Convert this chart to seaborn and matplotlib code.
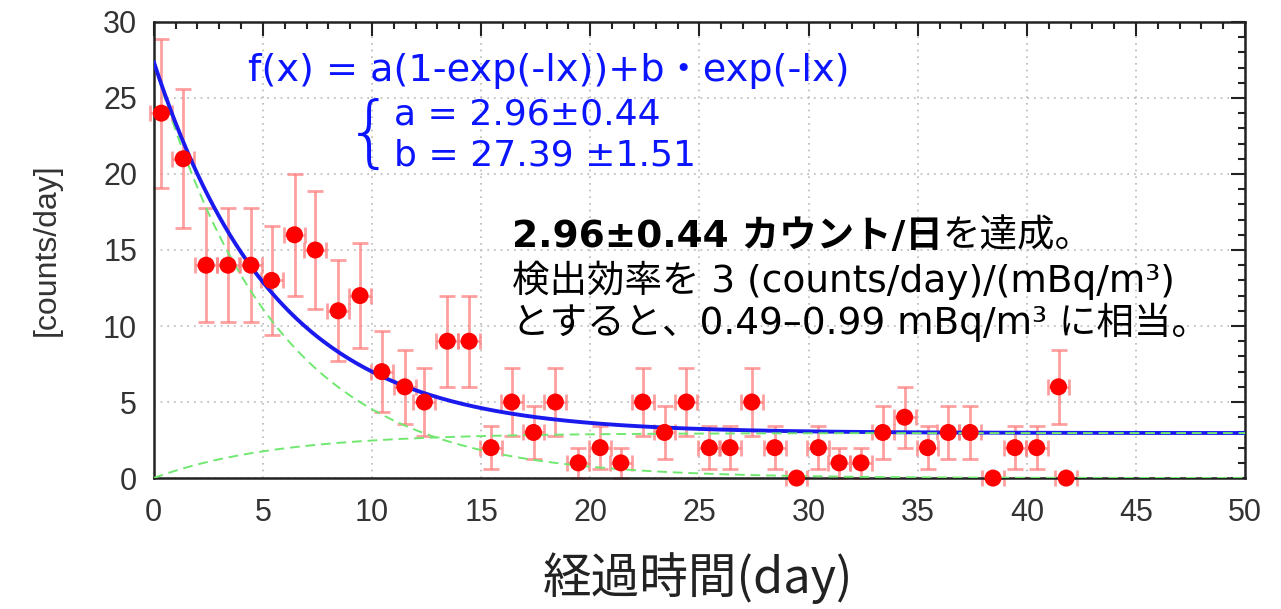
import numpy as np
import pandas as pd
import matplotlib
matplotlib.use("Agg")
import matplotlib.pyplot as plt
import seaborn as sns
from matplotlib.ticker import MultipleLocator

# ---- data ----
days = [0.35, 1.35, 2.4, 3.4, 4.45, 5.4, 6.45, 7.4, 8.45, 9.45,
        10.45, 11.5, 12.4, 13.45, 14.45, 15.45, 16.4, 17.4, 18.4, 19.45,
        20.45, 21.4, 22.4, 23.4, 24.4, 25.45, 26.4, 27.4, 28.45, 29.45,
        30.45, 31.4, 32.4, 33.4, 34.4, 35.45, 36.4, 37.4, 38.45, 39.45,
        40.45, 41.45, 41.8]
counts = [24, 21, 14, 14, 14, 13, 16, 15, 11, 12,
          7, 6, 5, 9, 9, 2, 5, 3, 5, 1,
          2, 1, 5, 3, 5, 2, 2, 5, 2, 0,
          2, 1, 1, 3, 4, 2, 3, 3, 0, 2,
          2, 6, 0]
x_err = 0.5
fit_a = 2.96
fit_b = 27.39
fit_l = 0.18
x_ticks = [0, 5, 10, 15, 20, 25, 30, 35, 40, 45, 50]
y_ticks = [0, 5, 10, 15, 20, 25, 30]

df = pd.DataFrame({"day": days, "counts": counts})
df["err"] = np.sqrt(df["counts"])

xs = np.linspace(0, 50, 400)
curves = pd.DataFrame({
    "x": xs,
    "total": fit_a * (1 - np.exp(-fit_l * xs)) + fit_b * np.exp(-fit_l * xs),
    "const": fit_a * (1 - np.exp(-fit_l * xs)),
    "decay": fit_b * np.exp(-fit_l * xs),
})

sns.set_theme(style="white")
plt.rcParams['font.family'] = ['Liberation Sans', 'DejaVu Sans']

fig = plt.figure(figsize=(12.81, 6.09), dpi=100)
ax = fig.add_axes([0.120, 0.215, 0.852, 0.749])

# grid
ax.grid(True, which="major", color="#b8b8b8", linestyle=(0, (1, 3)), linewidth=1.2)
ax.set_axisbelow(True)

# error bars
ax.errorbar(df["day"], df["counts"], yerr=df["err"], xerr=x_err, fmt="none",
            ecolor="#ff8080", elinewidth=2, capsize=6, capthick=2, alpha=0.75,
            clip_on=False, zorder=2)

# component curves
sns.lineplot(data=curves, x="x", y="decay", ax=ax, color="#70e870",
             linewidth=1.4, linestyle=(0, (5, 3)), zorder=3)
sns.lineplot(data=curves, x="x", y="total", ax=ax, color="#1a1aee",
             linewidth=2.8, zorder=4)
sns.lineplot(data=curves, x="x", y="const", ax=ax, color="#70e870",
             linewidth=1.4, linestyle=(0, (5, 3)), zorder=5)

# points
sns.scatterplot(data=df, x="day", y="counts", ax=ax, color="#ff0000", s=150,
                edgecolor="none", zorder=6, clip_on=False)

ax.set_xlim(0, 50)
ax.set_ylim(0, 30)
ax.set_xticks(x_ticks)
ax.set_yticks(y_ticks)
ax.xaxis.set_minor_locator(MultipleLocator(1))
ax.yaxis.set_minor_locator(MultipleLocator(1))
ax.tick_params(which="both", direction="in", top=True, right=True,
               color="#222222", width=1.5)
ax.tick_params(which="major", length=10, labelsize=22, labelcolor="#333333")
ax.tick_params(axis="x", which="major", pad=14)
ax.tick_params(axis="y", which="major", pad=12)
ax.tick_params(which="minor", length=5)
for sp in ax.spines.values():
    sp.set_color("#222222")
    sp.set_linewidth(1.8)

ax.set_xlabel("")
ax.set_ylabel("[counts/day]", fontsize=23, color="#333333", labelpad=30)

# x label (slide style)
fig.text(0.545, 0.05, "経過時間(day)", fontsize=35, color="#222222",
         ha="center", va="center", family=['Noto Sans CJK JP', 'DejaVu Sans'])

# formula annotations
blue = "#0a14ff"
ax.text(4.3, 26.8, "f(x) = a(1-exp(-lx))+b・exp(-lx)", fontsize=27.5, color=blue,
        ha="left", va="center", family=['DejaVu Sans', 'Noto Sans CJK JP'])
ax.text(11.0, 23.9, "a = 2.96±0.44", fontsize=26, color=blue, ha="left", va="center",
        family=['DejaVu Sans'])
ax.text(11.0, 21.2, "b = 27.39 ±1.51", fontsize=26, color=blue, ha="left", va="center",
        family=['DejaVu Sans'])
ax.text(8.75, 22.5, "{", fontsize=56, color=blue, ha="left", va="center",
        family=['DejaVu Sans'], fontweight="light")

jp = ['DejaVu Sans', 'Noto Sans CJK JP']
jsize = 27
t1 = ax.text(16.4, 15.86, "2.96±0.44 カウント/日", fontsize=jsize, color="black",
             fontweight="bold", ha="left", va="center", family=jp)
fig.canvas.draw()
bb = t1.get_window_extent()
inv = ax.transData.inverted()
x_end = inv.transform((bb.x1, bb.y0))[0]
ax.text(x_end, 15.86, "を達成。", fontsize=jsize, color="black", ha="left", va="center",
        family=jp)
ax.text(16.4, 13.03, "検出効率を 3 (counts/day)/(mBq/m³)", fontsize=jsize, color="black",
        ha="left", va="center", family=jp)
ax.text(16.4, 10.26, "とすると、0.49–0.99 mBq/m³ に相当。", fontsize=jsize, color="black",
        ha="left", va="center", family=jp)

fig.savefig("out.png", dpi=100, facecolor="white")
